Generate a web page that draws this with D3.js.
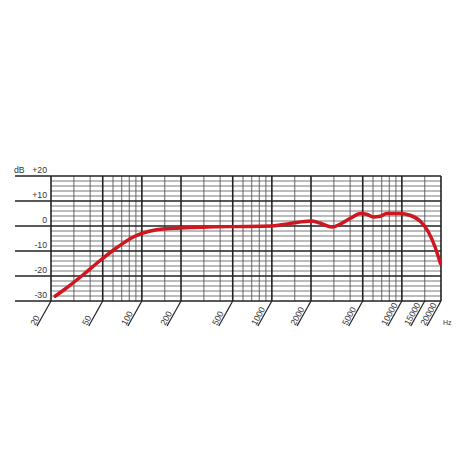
<!DOCTYPE html>
<html>
<head>
<meta charset="utf-8">
<script src="https://cdn.jsdelivr.net/npm/d3@7"></script>
<style>
  html, body { margin: 0; padding: 0; background: #fff; }
  svg { display: block; }
  text { font-family: "Liberation Sans", Arial, sans-serif; fill: #333; }
</style>
</head>
<body>
<svg id="chart" width="460" height="460"></svg>
<script>
// Frequency response data (Hz, dB)
const freqs = [21.5, 26, 35, 48, 64, 86, 102, 130, 150, 200, 470, 1000, 1380, 2000, 2340, 2900, 3340, 3990, 4820, 5350, 6040, 6800, 7640, 9690, 11520, 13800, 16000, 18000, 19800];
const levels = [-28.1, -25.0, -19.7, -13.7, -8.7, -4.4, -2.8, -1.5, -1.1, -0.8, -0.25, 0.0, 1.0, 2.0, 1.2, -0.4, 0.7, 3.0, 5.0, 4.7, 3.6, 3.9, 5.0, 5.0, 4.3, 2.0, -2.4, -8.4, -15.0];

// Axis definitions
const freqLabels = [20, 50, 100, 200, 500, 1000, 2000, 5000, 10000, 15000, 20000];
const freqMajor = [20, 50, 100, 200, 500, 1000, 2000, 5000, 10000, 20000];
const freqMinor = [30, 40, 60, 70, 80, 90, 150, 300, 400, 600, 700, 800, 900, 1500, 3000, 4000, 6000, 7000, 8000, 9000, 15000];
const dbMajor = [20, 10, 0, -10, -20, -30];
const dbLabels = ["+20", "+10", "0", "-10", "-20", "-30"];
const dbMinor = d3.range(-30, 21, 2).filter(v => v % 10 !== 0);

const svg = d3.select("#chart");
const x = d3.scaleLog().domain([20, 20000]).range([51, 441]);
const y = d3.scaleLinear().domain([-30, 20]).range([301, 176]);
const x0 = 51, x1 = 441, xAxisLeft = 15;

const grid = svg.append("g");
// minor horizontal
grid.selectAll("line.hmin").data(dbMinor).join("line")
  .attr("x1", x0).attr("x2", x1)
  .attr("y1", d => y(d)).attr("y2", d => y(d))
  .attr("stroke", "#555").attr("stroke-width", 0.8);
// minor vertical
grid.selectAll("line.vmin").data(freqMinor).join("line")
  .attr("x1", d => x(d)).attr("x2", d => x(d))
  .attr("y1", y(20)).attr("y2", y(-30))
  .attr("stroke", "#555").attr("stroke-width", 0.9);
// major vertical
grid.selectAll("line.vmaj").data(freqMajor).join("line")
  .attr("x1", d => x(d)).attr("x2", d => x(d))
  .attr("y1", y(20)).attr("y2", y(-30))
  .attr("stroke", "#222").attr("stroke-width", 1.6);
// major horizontal
grid.selectAll("line.hmaj").data(dbMajor).join("line")
  .attr("x1", xAxisLeft).attr("x2", x1)
  .attr("y1", d => y(d)).attr("y2", d => y(d))
  .attr("stroke", "#222").attr("stroke-width", 1.6);

// slanted ticks + labels
const slantDx = -14, slantDy = 25;
svg.append("g").selectAll("line").data(freqLabels).join("line")
  .attr("x1", d => x(d)).attr("y1", y(-30))
  .attr("x2", d => x(d) + slantDx).attr("y2", y(-30) + slantDy)
  .attr("stroke", "#222").attr("stroke-width", 1.2);
svg.append("g").selectAll("text").data(freqLabels).join("text")
  .attr("transform", d => `translate(${x(d) + slantDx - 1.8},${y(-30) + slantDy}) rotate(-61)`)
  .attr("font-size", 8.7)
  .attr("text-anchor", "start")
  .text(d => String(d));

// y labels
svg.append("g").selectAll("text").data(dbMajor).join("text")
  .attr("x", 47).attr("y", d => y(d) - 3.5)
  .attr("text-anchor", "end")
  .attr("font-size", 8.7)
  .text((d, i) => dbLabels[i]);
svg.append("text").attr("x", 14).attr("y", y(20) - 3.5)
  .attr("font-size", 8.7).text("dB");
svg.append("text").attr("x", 443).attr("y", 325)
  .attr("font-size", 7).text("Hz");

// response curve
const pts = freqs.map((f, i) => [f, levels[i]]);
const line = d3.line().x(d => x(d[0])).y(d => y(d[1])).curve(d3.curveMonotoneX);
svg.append("path").datum(pts)
  .attr("d", line)
  .attr("fill", "none")
  .attr("stroke", "#d0161e")
  .attr("stroke-width", 3.5)
  .attr("stroke-linecap", "round")
  .attr("stroke-linejoin", "round");
</script>
</body>
</html>
